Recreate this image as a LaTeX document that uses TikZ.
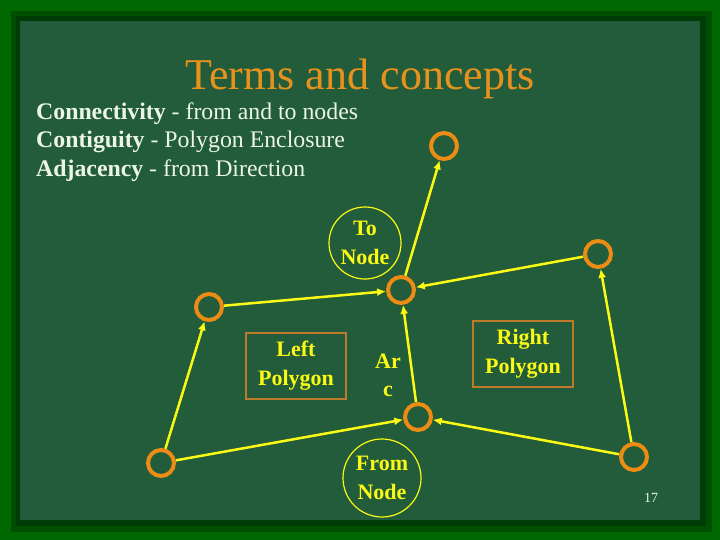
\documentclass[tikz,border=0pt]{standalone}
\usepackage{fontspec}
\setmainfont{Liberation Serif}
\usetikzlibrary{arrows.meta}

\definecolor{framegreen}{RGB}{0,104,0}
\definecolor{shadowgreen}{RGB}{0,78,0}
\definecolor{deepshadow}{RGB}{0,60,8}
\definecolor{marble}{RGB}{34,92,58}
\definecolor{dotorange}{RGB}{236,140,20}
\definecolor{titleorange}{RGB}{232,146,30}
\definecolor{boxorange}{RGB}{190,122,40}
\definecolor{lineyellow}{RGB}{250,250,20}
\definecolor{chalk}{RGB}{236,246,226}

\begin{document}
\begin{tikzpicture}[x=1pt, y=-1pt]
    \tikzset{
        end point/.style={circle, draw=dotorange, line width=4pt,
            minimum size=26pt, inner sep=0pt},
        arc line/.style={draw=lineyellow, line width=2.5pt,
            -{Latex[length=9pt, width=8pt]}},
        poly box/.style={draw=boxorange, line width=2pt, minimum width=100pt,
            minimum height=66pt, inner sep=0pt, align=center,
            text=lineyellow, font=\bfseries\fontsize{22}{29}\selectfont},
        node ring/.style={circle, draw=lineyellow, line width=1.2pt,
            inner sep=0pt, align=center, text=lineyellow,
            font=\bfseries\fontsize{22}{29}\selectfont},
        body text/.style={anchor=base west, text=chalk, inner sep=0pt,
            font=\fontsize{23.8}{28}\selectfont},
    }
    \useasboundingbox (0,0) rectangle (720,540);
    % frame, soft shadow and the marble panel
    \fill[framegreen] (0,0) rectangle (720,540);
    \fill[shadowgreen] (11,11) rectangle (712,532);
    \fill[deepshadow] (16,16) rectangle (706,526);
    \fill[marble] (20,21) rectangle (700,520);

    \node[anchor=base, text=titleorange, inner sep=0pt,
        font=\fontsize{44}{48}\selectfont] (title) at (360,90)
        {Terms and concepts};
    \node[body text] (conn) at (36,120) {\textbf{Connectivity} - from and to nodes};
    \node[body text] (cont) at (36,148) {\textbf{Contiguity} - Polygon Enclosure};
    \node[body text] (adj) at (36,177) {\textbf{Adjacency} - from Direction};

    % nodes of the arcs
    \node[end point] (top pt) at (444,146) {};
    \node[end point] (to pt) at (401,290) {};
    \node[end point] (west pt) at (209,307) {};
    \node[end point] (east pt) at (598,254) {};
    \node[end point] (from pt) at (418,417) {};
    \node[end point] (sw pt) at (161,463) {};
    \node[end point] (se pt) at (634,457) {};

    \draw[arc line] (to pt) -- (top pt);
    \draw[arc line] (west pt) -- (to pt);
    \draw[arc line] (east pt) -- (to pt);
    \draw[arc line] (from pt) -- (to pt);
    \draw[arc line] (sw pt) -- (west pt);
    \draw[arc line] (sw pt) -- (from pt);
    \draw[arc line] (se pt) -- (from pt);
    \draw[arc line] (se pt) -- (east pt);

    \node[node ring, minimum size=72pt] (to label) at (365,243) {To\\Node};
    \node[node ring, minimum size=78pt] (from label) at (382,478) {From\\Node};
    \node[poly box] (left poly) at (296,366) {Left\\Polygon};
    \node[poly box] (right poly) at (523,354) {Right\\Polygon};
    \node[align=center, text=lineyellow, inner sep=0pt,
        font=\bfseries\fontsize{22}{28}\selectfont] (arc label) at (388,375) {Ar\\c};

    \node[anchor=base, text=chalk, inner sep=0pt,
        font=\fontsize{14}{16}\selectfont] (page) at (651,502) {17};
\end{tikzpicture}
\end{document}
